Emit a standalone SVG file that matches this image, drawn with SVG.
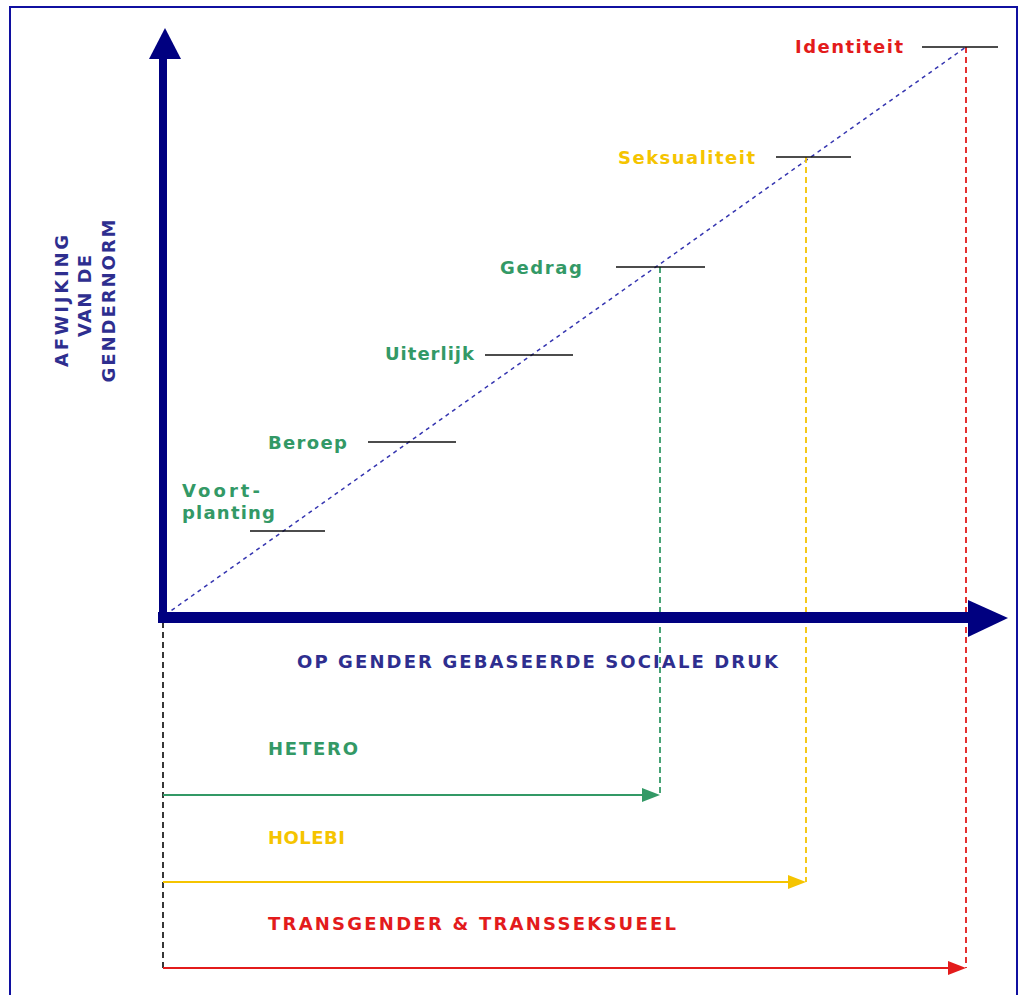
<svg xmlns="http://www.w3.org/2000/svg" width="1024" height="995" viewBox="0 0 1024 995">
<style>
.lbl{font-family:"DejaVu Sans","Verdana",sans-serif;font-weight:bold;font-size:18px}
.g{fill:#339966}.y{fill:#f5c400}.r{fill:#e31b1b}.b{fill:#2e2e8f}
.tick{stroke:#111;stroke-width:1.6}
.vd{stroke-width:1.8;stroke-dasharray:6 4;fill:none}
</style>
<rect width="1024" height="995" fill="#ffffff"/>
<rect x="10" y="7" width="1007" height="1000" fill="none" stroke="#1010a0" stroke-width="2"/>

<g id="connectors">
  <line x1="165" y1="615" x2="966" y2="47" stroke="#3535b0" stroke-width="1.5" stroke-dasharray="4 4"/>
  <line x1="163" y1="622" x2="163" y2="970" class="vd" stroke="#222"/>
  <line x1="660" y1="267" x2="660" y2="795" class="vd" stroke="#339966"/>
  <line x1="806" y1="157" x2="806" y2="882" class="vd" stroke="#f5c400"/>
  <line x1="966" y1="47" x2="966" y2="968" class="vd" stroke="#e31b1b"/>
  <line x1="163" y1="795" x2="646" y2="795" stroke="#339966" stroke-width="2"/>
  <polygon points="642,788 660,795 642,802" fill="#339966"/>
  <line x1="163" y1="882" x2="792" y2="882" stroke="#f5c400" stroke-width="2"/>
  <polygon points="788,875 806,882 788,889" fill="#f5c400"/>
  <line x1="163" y1="968" x2="952" y2="968" stroke="#e31b1b" stroke-width="2"/>
  <polygon points="948,961 966,968 948,975" fill="#e31b1b"/>
</g>

<g id="y-axis">
  <rect x="159" y="58" width="8" height="564" fill="#000080"/>
  <polygon points="149,59 165,28 181,59" fill="#000080"/>
</g>
<g id="x-axis">
  <rect x="158" y="612" width="812" height="11" fill="#000080"/>
  <polygon points="968,600 1008,618 968,637" fill="#000080"/>
</g>

<g id="ticks">
  <line class="tick" x1="250" y1="531" x2="325" y2="531"/>
  <line class="tick" x1="368" y1="442" x2="456" y2="442"/>
  <line class="tick" x1="485" y1="355" x2="573" y2="355"/>
  <line class="tick" x1="616" y1="267" x2="705" y2="267"/>
  <line class="tick" x1="776" y1="157" x2="851" y2="157"/>
  <line class="tick" x1="922" y1="47" x2="998" y2="47"/>
</g>

<g id="node-voortplanting"><text class="lbl g" x="182" y="497" textLength="78">Voort-</text><text class="lbl g" x="182" y="519" textLength="93">planting</text></g>
<g id="node-beroep"><text class="lbl g" x="268" y="449" textLength="79">Beroep</text></g>
<g id="node-uiterlijk"><text class="lbl g" x="385" y="360" textLength="89">Uiterlijk</text></g>
<g id="node-gedrag"><text class="lbl g" x="500" y="274" textLength="82">Gedrag</text></g>
<g id="node-seksualiteit"><text class="lbl y" x="618" y="164" textLength="137">Seksualiteit</text></g>
<g id="node-identiteit"><text class="lbl r" x="795" y="53" textLength="108">Identiteit</text></g>

<g id="x-label"><text class="lbl b" x="297" y="668" textLength="481">OP GENDER GEBASEERDE SOCIALE DRUK</text></g>
<g id="y-label">
  <text class="lbl b" transform="translate(68,301) rotate(-90)" text-anchor="middle" textLength="132">AFWIJKING</text>
  <text class="lbl b" transform="translate(91,296) rotate(-90)" text-anchor="middle" textLength="82">VAN DE</text>
  <text class="lbl b" transform="translate(115,301) rotate(-90)" text-anchor="middle" textLength="163">GENDERNORM</text>
</g>

<g id="node-hetero"><text class="lbl g" x="268" y="755" textLength="90">HETERO</text></g>
<g id="node-holebi"><text class="lbl y" x="268" y="844" textLength="77">HOLEBI</text></g>
<g id="node-trans"><text class="lbl r" x="268" y="930" textLength="408">TRANSGENDER &amp; TRANSSEKSUEEL</text></g>
</svg>
